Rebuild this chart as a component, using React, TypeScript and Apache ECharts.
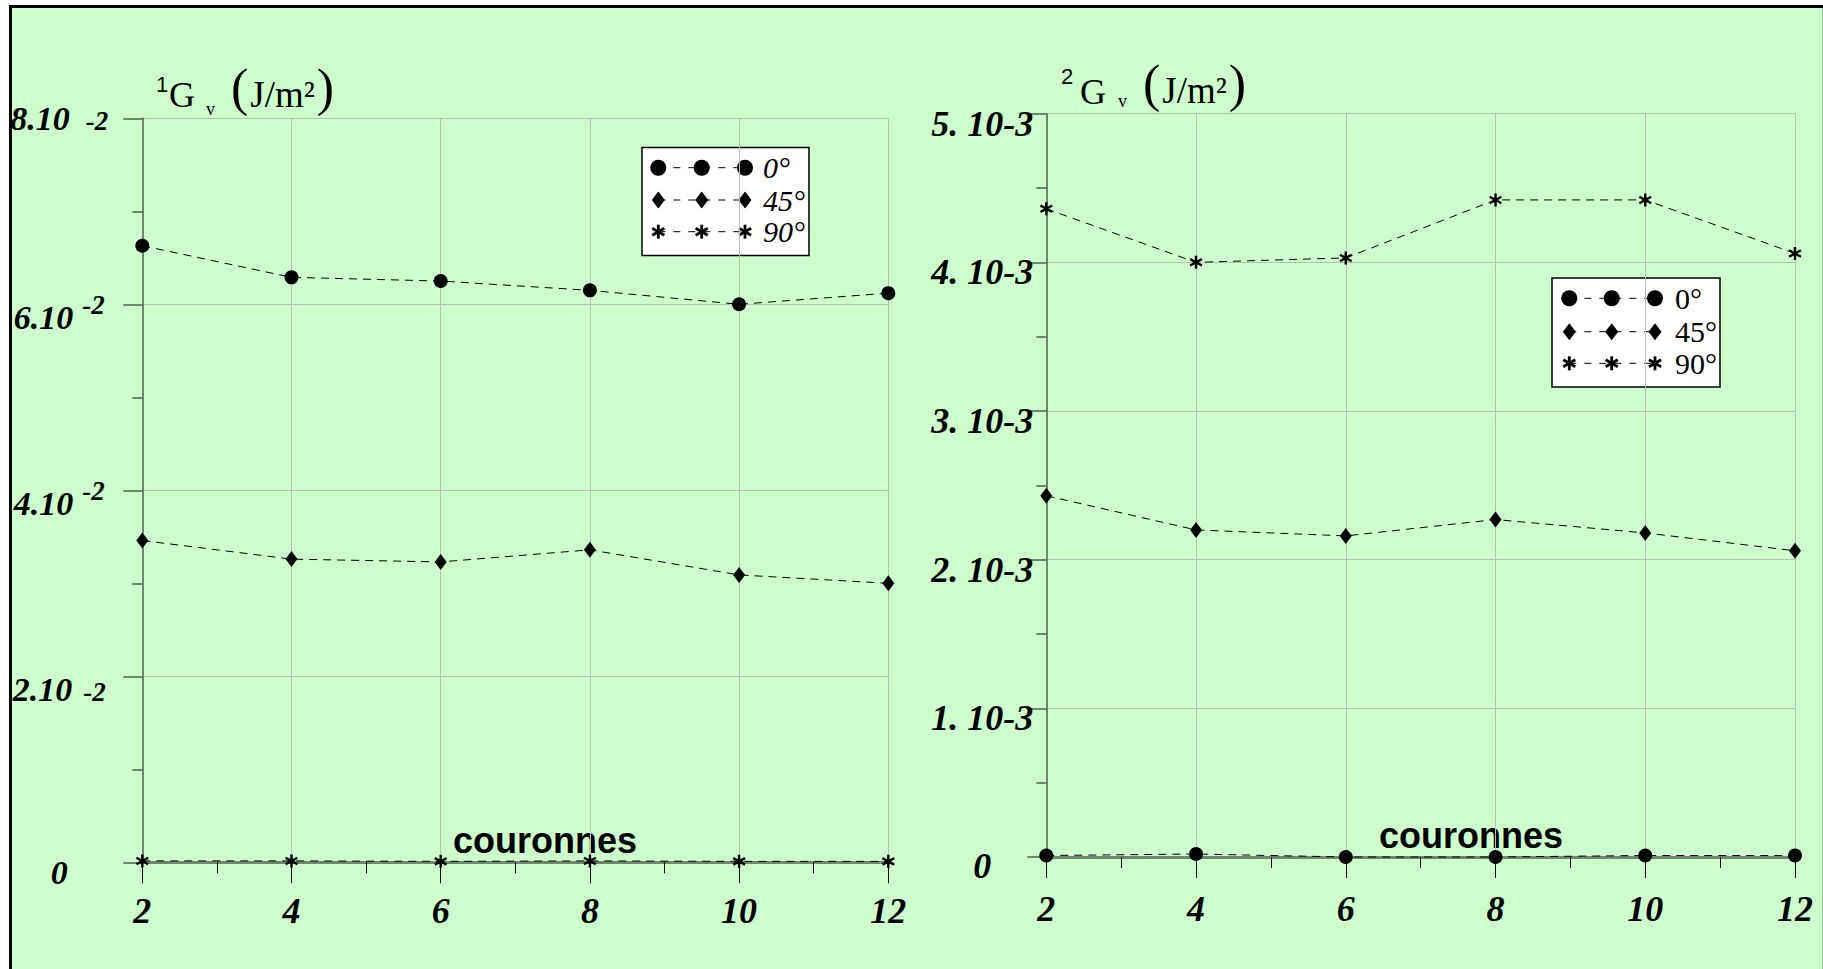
import React, { useEffect, useRef } from 'react';
import * as echarts from 'echarts';

// Ring index (couronnes) on the horizontal axis
const rings = [2, 4, 6, 8, 10, 12];

// 1Gv (J/m²) per orientation
const g1Deg0 = [0.0663, 0.0629, 0.0625, 0.0615, 0.06, 0.0612];
const g1Deg45 = [0.0346, 0.0326, 0.0323, 0.0336, 0.0309, 0.03];
const g1Deg90 = [0.00015, 0.00015, 0.0001, 0.00015, 0.0001, 0.0001];

// 2Gv (J/m²) per orientation
const g2Deg0 = [0.00001, 0.00002, 0.0, 0.0, 0.00001, 0.00001];
const g2Deg45 = [0.00243, 0.0022, 0.00216, 0.00227, 0.00218, 0.00206];
const g2Deg90 = [0.00436, 0.004, 0.00403, 0.00442, 0.00442, 0.00406];

const angleNames = ['0°', '45°', '90°'];

// Tick labels
const g1TickMantissas = ['0', '2.10', '4.10', '6.10', '8.10'];
const g1TickExponent = '-2';
const g2TickLabels = ['0', '1. 10-3', '2. 10-3', '3. 10-3', '4. 10-3', '5. 10-3'];
const xAxisTitle = 'couronnes';

const SERIF = '"Liberation Serif", "Times New Roman", serif';
const SANS = '"Liberation Sans", Arial, sans-serif';
const BG = '#ccffcc';
const AXIS_DARK = '#4f5f4f';
const GRID_GRAY = '#b9bdb9';

// six-armed asterisk marker
const ASTERISK =
  'path://M-0.9,-5L0.9,-5L0.9,5L-0.9,5Z M3.88,-3.28L4.78,-1.72L-3.88,3.28L-4.78,1.72Z M-4.78,-1.72L-3.88,-3.28L4.78,1.72L3.88,3.28Z';

const tickFont = (size: number, pad: number[]) => ({
  fontFamily: SERIF,
  fontWeight: 'bold',
  fontStyle: 'italic',
  fontSize: size,
  color: '#000',
  padding: pad,
  verticalAlign: 'top',
});

const g1Rich = {
  m0: tickFont(34, [0, 0, 0, 0]),
  e0: tickFont(27, [6, 0, 0, 16]),
  m1: tickFont(34, [26, 0, 0, 0]),
  e1: tickFont(27, [17, 0, 0, 9]),
  m2: tickFont(34, [26, 0, 0, 0]),
  e2: tickFont(27, [32, 0, 0, 11]),
  z: tickFont(34, [20, 0, 0, 0]),
};

const g2Rich = {
  r: tickFont(36, [20, 0, 0, 0]),
  z: tickFont(36, [18, 0, 0, 0]),
};

function g1Label(value: number) {
  const i = Math.round(value / 0.02);
  const m = g1TickMantissas[i];
  if (i === 0) return `{z|${m}}`;
  if (i === g1TickMantissas.length - 1) return `{m0|${m}}{e0|${g1TickExponent}}`;
  if (i === 1) return `{m2|${m}}{e2|${g1TickExponent}}`;
  return `{m1|${m}}{e1|${g1TickExponent}}`;
}

function g2Label(value: number) {
  const i = Math.round(value / 0.001);
  return i === 0 ? `{z|${g2TickLabels[i]}}` : `{r|${g2TickLabels[i]}}`;
}

function makeXAxis(gridIndex: number, margin: number) {
  return {
    gridIndex,
    type: 'value',
    min: 2,
    max: 12,
    interval: 2,
    axisLine: { show: true, onZero: false, lineStyle: { color: '#748574', width: 3 } },
    axisTick: { show: true, length: 21, lineStyle: { color: '#000', width: 1 } },
    minorTick: { show: true, splitNumber: 2, length: 11, lineStyle: { color: '#000', width: 1 } },
    splitLine: { show: true, showMinLine: false, lineStyle: { color: GRID_GRAY, width: 1 } },
    axisLabel: {
      margin,
      fontFamily: SERIF,
      fontWeight: 'bold',
      fontStyle: 'italic',
      fontSize: 36,
      color: '#000',
    },
  };
}

function makeYAxis(gridIndex: number, max: number, interval: number, margin: number, formatter: any, rich: any) {
  return {
    gridIndex,
    type: 'value',
    min: 0,
    max,
    interval,
    axisLine: { show: true, lineStyle: { color: AXIS_DARK, width: 1.5 } },
    axisTick: { show: true, length: 19, lineStyle: { color: AXIS_DARK, width: 1.5 } },
    minorTick: { show: true, splitNumber: 2, length: 10, lineStyle: { color: AXIS_DARK, width: 1.5 } },
    splitLine: { show: true, showMinLine: false, lineStyle: { color: GRID_GRAY, width: 1 } },
    axisLabel: { align: 'center', margin, formatter, rich },
  };
}

function makeSeries(name: string, axisIndex: number, values: number[], symbol: string, symbolSize: any) {
  return {
    type: 'line',
    name,
    xAxisIndex: axisIndex,
    yAxisIndex: axisIndex,
    data: rings.map((r, i) => [r, values[i]]),
    symbol,
    symbolSize,
    showSymbol: true,
    clip: false,
    silent: true,
    z: 3,
    itemStyle: { color: '#000' },
    lineStyle: { color: '#000', width: 1, type: [8, 6] },
  };
}

// Legend box: three marker rows joined by a dashed line, label to the right
function legendBox(
  bx: number, by: number, bw: number, bh: number,
  markerXs: number[], rowYs: number[], labelX: number, italic: boolean,
) {
  const children: any[] = [
    { type: 'rect', shape: { x: bx, y: by, width: bw, height: bh }, style: { fill: '#fff', stroke: '#000', lineWidth: 1.5 } },
  ];
  rowYs.forEach((y, row) => {
    children.push({
      type: 'line',
      shape: { x1: markerXs[0], y1: y, x2: markerXs[2], y2: y },
      style: { stroke: '#000', lineWidth: 1, lineDash: [7, 8] },
    });
    markerXs.forEach((x) => {
      if (row === 0) {
        children.push({ type: 'circle', shape: { cx: x, cy: y, r: 8 }, style: { fill: '#000' } });
      } else if (row === 1) {
        children.push({
          type: 'polygon',
          shape: { points: [[x, y - 8.5], [x + 6.5, y], [x, y + 8.5], [x - 6.5, y]] },
          style: { fill: '#000' },
        });
      } else {
        [[0, -7, 0, 7], [6.06, -3.5, -6.06, 3.5], [-6.06, -3.5, 6.06, 3.5]].forEach((a) => {
          children.push({
            type: 'line',
            shape: { x1: x + a[0], y1: y + a[1], x2: x + a[2], y2: y + a[3] },
            style: { stroke: '#000', lineWidth: 2.8 },
          });
        });
      }
    });
    children.push({
      type: 'text',
      style: {
        text: angleNames[row],
        x: labelX,
        y,
        font: `${italic ? 'italic ' : ''}30px ${SERIF}`,
        fill: '#000',
        textAlign: 'left',
        textVerticalAlign: 'middle',
        align: 'left',
        verticalAlign: 'middle',
      },
    });
  });
  return { type: 'group', children };
}

function txt(text: string, x: number, y: number, font: string, align = 'left') {
  return {
    type: 'text',
    style: {
      text, x, y, font, fill: '#000',
      textAlign: align, textVerticalAlign: 'middle', align, verticalAlign: 'middle',
    },
  };
}

// "(J/m²)" with tall parentheses, as one rich text
function unitText(x: number, y: number) {
  return {
    type: 'text',
    style: {
      text: '{p|(}{u|J/m²}{p|)}',
      x, y,
      fill: '#000',
      textAlign: 'left', textVerticalAlign: 'middle', align: 'left', verticalAlign: 'middle',
      rich: {
        p: { fontFamily: SERIF, fontSize: 52, color: '#000', padding: [0, 0, 7, 0] },
        u: { fontFamily: SERIF, fontSize: 37, color: '#000', padding: [7, 2, 0, 2] },
      },
    },
  };
}

function titleGroup(sup: string, pos: any) {
  return {
    type: 'group',
    children: [
      txt(sup, pos.sup[0], pos.sup[1], `22px ${SANS}`),
      txt('G', pos.g[0], pos.g[1], `36px ${SERIF}`),
      txt('v', pos.v[0], pos.v[1], `18px ${SERIF}`),
      unitText(pos.unit[0], pos.unit[1]),
    ],
  };
}

const option: any = {
  animation: false,
  backgroundColor: BG,
  grid: [
    { left: 142.3, top: 118.3, width: 746, height: 744, containLabel: false },
    { left: 1046.3, top: 113.7, width: 748.7, height: 743.3, containLabel: false },
  ],
  xAxis: [makeXAxis(0, 31), makeXAxis(1, 34)],
  yAxis: [
    makeYAxis(0, 0.08, 0.02, 83, g1Label, g1Rich),
    makeYAxis(1, 0.005, 0.001, 64, g2Label, g2Rich),
  ],
  series: [
    makeSeries('0°', 0, g1Deg0, 'circle', 14),
    makeSeries('45°', 0, g1Deg45, 'diamond', [12, 16]),
    makeSeries('90°', 0, g1Deg90, ASTERISK, [13, 13]),
    makeSeries('0°', 1, g2Deg0, 'circle', 14),
    makeSeries('45°', 1, g2Deg45, 'diamond', [12, 16]),
    makeSeries('90°', 1, g2Deg90, ASTERISK, [13, 13]),
  ],
  graphic: [
    // frame: white margin, black border on the top and left
    { type: 'rect', shape: { x: 0, y: 0, width: 1823, height: 5 }, style: { fill: '#fff' } },
    { type: 'rect', shape: { x: 0, y: 0, width: 9, height: 969 }, style: { fill: '#fff' } },
    { type: 'rect', shape: { x: 9, y: 5, width: 1814, height: 3 }, style: { fill: '#000' } },
    { type: 'rect', shape: { x: 9, y: 5, width: 3, height: 964 }, style: { fill: '#000' } },
    { type: 'rect', shape: { x: 1822, y: 8, width: 1, height: 961 }, style: { fill: '#9cc49c' } },
    titleGroup('1', { sup: [156, 84.5], g: [169, 94.5], v: [206, 109], unit: [231, 90.5] }),
    titleGroup('2', { sup: [1061, 76.5], g: [1080, 91.5], v: [1118, 100.5], unit: [1143, 87] }),
    txt(xAxisTitle, 545, 840, `bold 36px ${SANS}`, 'center'),
    txt(xAxisTitle, 1471, 835, `bold 36px ${SANS}`, 'center'),
    legendBox(642, 147.5, 167, 108, [658.3, 701.7, 745], [167.7, 200, 231.7], 763, true),
    legendBox(1552, 278, 168, 109, [1569.3, 1611.7, 1655], [298.3, 331.7, 363.3], 1675, false),
  ],
};

export default function App() {
  const ref = useRef<HTMLDivElement>(null);
  useEffect(() => {
    if (!ref.current) return;
    const chart = echarts.init(ref.current, undefined, { renderer: 'svg' });
    chart.setOption(option);
    return () => chart.dispose();
  }, []);
  return (
    <div
      ref={ref}
      style={{ position: 'fixed', left: 0, top: 0, width: 1823, height: 969 }}
    />
  );
}
